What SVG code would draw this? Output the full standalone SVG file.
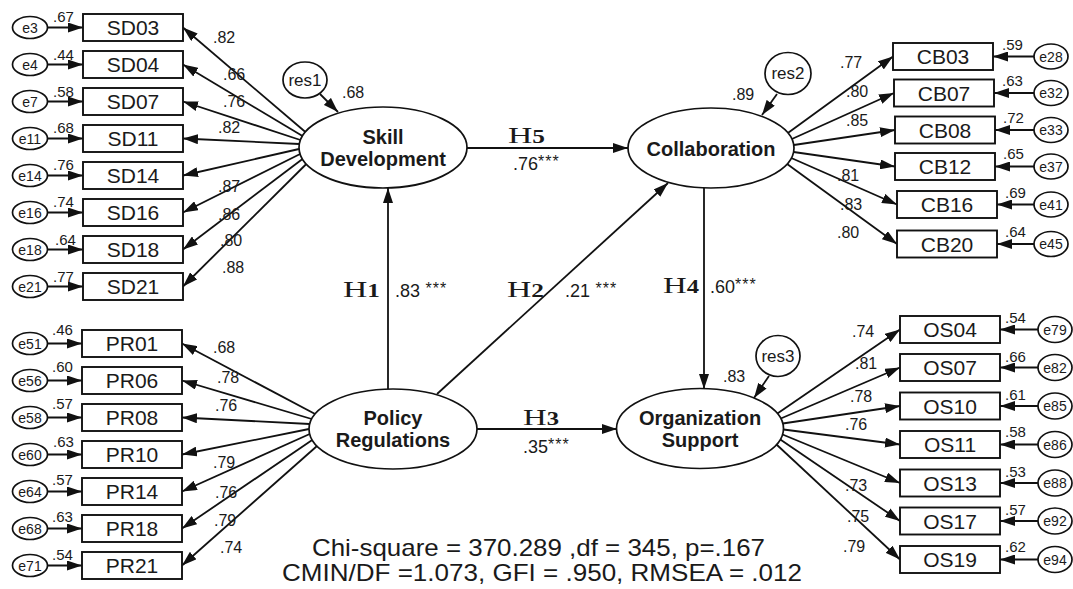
<svg xmlns="http://www.w3.org/2000/svg" width="1073" height="589" viewBox="0 0 1073 589">
<defs>
<marker id="ah" viewBox="0 0 15 10" refX="15" refY="5" markerWidth="15" markerHeight="10" markerUnits="userSpaceOnUse" orient="auto"><path d="M0,0 L15,5 L0,10 z" fill="#111"/></marker>
</defs>
<style>
.bx{fill:#fff;stroke:#111;stroke-width:1.9}
.el{fill:#fff;stroke:#111;stroke-width:1.7}
.ln{stroke:#111;stroke-width:1.8;fill:none;marker-end:url(#ah)}
.it{font-family:"Liberation Sans",Arial,sans-serif;font-size:21px;fill:#1a1a1a;text-anchor:middle}
.et{font-family:"Liberation Sans",Arial,sans-serif;font-size:14px;fill:#1a1a1a;text-anchor:middle}
.rt{font-family:"Liberation Sans",Arial,sans-serif;font-size:17px;fill:#1a1a1a;text-anchor:middle}
.num{font-family:"Liberation Sans",Arial,sans-serif;font-size:16px;fill:#1a1a1a}
.ev{font-family:"Liberation Sans",Arial,sans-serif;font-size:15px;fill:#1a1a1a}
.lat{font-family:"Liberation Sans",Arial,sans-serif;font-size:20px;font-weight:bold;fill:#1a1a1a;text-anchor:middle}
.hh{font-family:"Liberation Serif","Times New Roman",serif;font-size:24px;fill:#1a1a1a}
.hd{font-family:"Liberation Serif","Times New Roman",serif;font-size:18px;font-weight:bold}
.pc{font-family:"Liberation Sans",Arial,sans-serif;font-size:18px;fill:#1a1a1a}
.st{font-size:16px;letter-spacing:1px}
.fit{font-family:"Liberation Sans",Arial,sans-serif;font-size:24px;fill:#1a1a1a}
</style>
<rect width="1073" height="589" fill="#fff"/>

<g id="connectors">
<line class="ln" x1="305.4" y1="132" x2="183" y2="27.5"/>
<line class="ln" x1="302.5" y1="136" x2="183" y2="64.5"/>
<line class="ln" x1="300.4" y1="140" x2="183" y2="101.5"/>
<line class="ln" x1="299.3" y1="144" x2="183" y2="138.5"/>
<line class="ln" x1="299" y1="149" x2="183" y2="175.5"/>
<line class="ln" x1="300.1" y1="154" x2="183" y2="212.5"/>
<line class="ln" x1="302.5" y1="159" x2="183" y2="249.5"/>
<line class="ln" x1="306.3" y1="164" x2="183" y2="286.5"/>
<line class="ln" x1="47.5" y1="27.5" x2="83" y2="27.5"/>
<line class="ln" x1="47.5" y1="64.5" x2="83" y2="64.5"/>
<line class="ln" x1="47.5" y1="101.5" x2="83" y2="101.5"/>
<line class="ln" x1="47.5" y1="138.5" x2="83" y2="138.5"/>
<line class="ln" x1="47.5" y1="175.5" x2="83" y2="175.5"/>
<line class="ln" x1="47.5" y1="212.5" x2="83" y2="212.5"/>
<line class="ln" x1="47.5" y1="249.5" x2="83" y2="249.5"/>
<line class="ln" x1="47.5" y1="286.5" x2="83" y2="286.5"/>
<line class="ln" x1="315.1" y1="414" x2="182" y2="343.5"/>
<line class="ln" x1="311.7" y1="419" x2="182" y2="380.5"/>
<line class="ln" x1="309.7" y1="424" x2="182" y2="417.5"/>
<line class="ln" x1="309" y1="429" x2="182" y2="454.5"/>
<line class="ln" x1="309.7" y1="434" x2="182" y2="491.5"/>
<line class="ln" x1="312.2" y1="440" x2="182" y2="528.5"/>
<line class="ln" x1="317" y1="446" x2="182" y2="565.5"/>
<line class="ln" x1="47.5" y1="343.5" x2="82" y2="343.5"/>
<line class="ln" x1="47.5" y1="380.5" x2="82" y2="380.5"/>
<line class="ln" x1="47.5" y1="417.5" x2="82" y2="417.5"/>
<line class="ln" x1="47.5" y1="454.5" x2="82" y2="454.5"/>
<line class="ln" x1="47.5" y1="491.5" x2="82" y2="491.5"/>
<line class="ln" x1="47.5" y1="528.5" x2="82" y2="528.5"/>
<line class="ln" x1="47.5" y1="565.5" x2="82" y2="565.5"/>
<line class="ln" x1="787.9" y1="133" x2="893" y2="56.5"/>
<line class="ln" x1="791.9" y1="139" x2="894" y2="93"/>
<line class="ln" x1="793.8" y1="145" x2="895" y2="130"/>
<line class="ln" x1="793.6" y1="152" x2="895" y2="166.5"/>
<line class="ln" x1="791.3" y1="158" x2="897" y2="204.5"/>
<line class="ln" x1="787.1" y1="164" x2="897" y2="244"/>
<line class="ln" x1="1034" y1="56.5" x2="993" y2="56.5"/>
<line class="ln" x1="1034" y1="93" x2="994" y2="93"/>
<line class="ln" x1="1034" y1="130" x2="995" y2="130"/>
<line class="ln" x1="1034" y1="166.5" x2="995" y2="166.5"/>
<line class="ln" x1="1034" y1="204.5" x2="997" y2="204.5"/>
<line class="ln" x1="1034" y1="244" x2="997" y2="244"/>
<line class="ln" x1="777.4" y1="413.5" x2="900" y2="329.5"/>
<line class="ln" x1="780.8" y1="418.5" x2="900" y2="367.5"/>
<line class="ln" x1="782.8" y1="423.5" x2="900" y2="406"/>
<line class="ln" x1="783.5" y1="429.5" x2="900" y2="444.5"/>
<line class="ln" x1="782.6" y1="434.5" x2="900" y2="483"/>
<line class="ln" x1="780.3" y1="439.5" x2="900" y2="521"/>
<line class="ln" x1="776.5" y1="444.5" x2="900" y2="559.5"/>
<line class="ln" x1="1038" y1="329.5" x2="1000" y2="329.5"/>
<line class="ln" x1="1038" y1="367.5" x2="1000" y2="367.5"/>
<line class="ln" x1="1038" y1="406" x2="1000" y2="406"/>
<line class="ln" x1="1038" y1="444.5" x2="1000" y2="444.5"/>
<line class="ln" x1="1038" y1="483" x2="1000" y2="483"/>
<line class="ln" x1="1038" y1="521" x2="1000" y2="521"/>
<line class="ln" x1="1038" y1="559.5" x2="1000" y2="559.5"/>
<line class="ln" x1="320" y1="94" x2="338" y2="112"/>
<line class="ln" x1="777" y1="94" x2="762" y2="115"/>
<line class="ln" x1="769" y1="376" x2="754" y2="398"/>
<line class="ln" x1="467" y1="148" x2="628" y2="148"/>
<line class="ln" x1="388" y1="389" x2="388" y2="188"/>
<line class="ln" x1="437" y1="394" x2="668" y2="183"/>
<line class="ln" x1="704" y1="188" x2="704" y2="389"/>
<line class="ln" x1="477" y1="429" x2="617" y2="429"/>
</g>

<g id="path-labels">
<text class="hh" x="508" y="143" textLength="37" lengthAdjust="spacingAndGlyphs">H<tspan class="hd">5</tspan></text>
<text class="pc" x="513" y="170">.76<tspan class="st" dy="-3">***</tspan></text>
<text class="hh" x="343" y="297" textLength="37" lengthAdjust="spacingAndGlyphs">H<tspan class="hd">1</tspan></text>
<text class="pc" x="395" y="297">.83<tspan class="st" dy="-3"> ***</tspan></text>
<text class="hh" x="507" y="297" textLength="37" lengthAdjust="spacingAndGlyphs">H<tspan class="hd">2</tspan></text>
<text class="pc" x="565" y="297">.21<tspan class="st" dy="-3"> ***</tspan></text>
<text class="hh" x="663" y="293" textLength="36" lengthAdjust="spacingAndGlyphs">H<tspan class="hd">4</tspan></text>
<text class="pc" x="710" y="293">.60<tspan class="st" dy="-3">***</tspan></text>
<text class="hh" x="523" y="425" textLength="36" lengthAdjust="spacingAndGlyphs">H<tspan class="hd">3</tspan></text>
<text class="pc" x="523" y="453">.35<tspan class="st" dy="-3">***</tspan></text>
<text class="num" x="342" y="98">.68</text>
<text class="num" x="732" y="100">.89</text>
<text class="num" x="723" y="382">.83</text>
<text class="num" x="213" y="43">.82</text>
<text class="num" x="223" y="80">.66</text>
<text class="num" x="223" y="107">.76</text>
<text class="num" x="218" y="133">.82</text>
<text class="num" x="218" y="192">.87</text>
<text class="num" x="218" y="220">.86</text>
<text class="num" x="220" y="246">.80</text>
<text class="num" x="222" y="273">.88</text>
<text class="num" x="213" y="353">.68</text>
<text class="num" x="217" y="383">.78</text>
<text class="num" x="215" y="411">.76</text>
<text class="num" x="213" y="468">.79</text>
<text class="num" x="215" y="498">.76</text>
<text class="num" x="214" y="526">.79</text>
<text class="num" x="220" y="553">.74</text>
<text class="num" x="840" y="68">.77</text>
<text class="num" x="846" y="97">.80</text>
<text class="num" x="846" y="126">.85</text>
<text class="num" x="837" y="181">.81</text>
<text class="num" x="840" y="210">.83</text>
<text class="num" x="837" y="238">.80</text>
<text class="num" x="852" y="337">.74</text>
<text class="num" x="855" y="369">.81</text>
<text class="num" x="850" y="402">.78</text>
<text class="num" x="845" y="430">.76</text>
<text class="num" x="845" y="491">.73</text>
<text class="num" x="847" y="522">.75</text>
<text class="num" x="843" y="552">.79</text>
</g>

<g id="res1"><ellipse class="el" cx="305" cy="80" rx="22" ry="18"/><text class="rt" x="305" y="86">res1</text></g>
<g id="res2"><ellipse class="el" cx="788" cy="73.5" rx="23" ry="21"/><text class="rt" x="788" y="79">res2</text></g>
<g id="res3"><ellipse class="el" cx="778" cy="356" rx="22" ry="20.5"/><text class="rt" x="778" y="362">res3</text></g>

<g id="skill-development"><ellipse class="el" cx="383" cy="147.5" rx="84" ry="40.5"/><text class="lat" x="383" y="144">Skill</text><text class="lat" x="383" y="166">Development</text></g>
<g id="collaboration"><ellipse class="el" cx="711" cy="148" rx="83" ry="40"/><text class="lat" x="711" y="156">Collaboration</text></g>
<g id="policy-regulations"><ellipse class="el" cx="393" cy="429" rx="84" ry="40"/><text class="lat" x="393" y="425">Policy</text><text class="lat" x="393" y="447">Regulations</text></g>
<g id="organization-support"><ellipse class="el" cx="700" cy="428.5" rx="83.5" ry="40"/><text class="lat" x="700" y="425">Organization</text><text class="lat" x="700" y="447">Support</text></g>

<g id="SD03"><rect class="bx" x="83" y="14" width="100" height="27"/><text class="it" x="133" y="35">SD03</text><ellipse class="el" cx="30" cy="27.5" rx="17.5" ry="11"/><text class="et" x="30" y="32.5">e3</text><text class="ev" x="53" y="22">.67</text></g>
<g id="SD04"><rect class="bx" x="83" y="51" width="100" height="27"/><text class="it" x="133" y="72">SD04</text><ellipse class="el" cx="30" cy="64.5" rx="17.5" ry="11"/><text class="et" x="30" y="69.5">e4</text><text class="ev" x="53" y="60">.44</text></g>
<g id="SD07"><rect class="bx" x="83" y="88" width="100" height="27"/><text class="it" x="133" y="109">SD07</text><ellipse class="el" cx="30" cy="101.5" rx="17.5" ry="11"/><text class="et" x="30" y="106.5">e7</text><text class="ev" x="53" y="97">.58</text></g>
<g id="SD11"><rect class="bx" x="83" y="125" width="100" height="27"/><text class="it" x="133" y="146">SD11</text><ellipse class="el" cx="30" cy="138.5" rx="17.5" ry="11"/><text class="et" x="30" y="143.5">e11</text><text class="ev" x="53" y="133">.68</text></g>
<g id="SD14"><rect class="bx" x="83" y="162" width="100" height="27"/><text class="it" x="133" y="183">SD14</text><ellipse class="el" cx="30" cy="175.5" rx="17.5" ry="11"/><text class="et" x="30" y="180.5">e14</text><text class="ev" x="53" y="170">.76</text></g>
<g id="SD16"><rect class="bx" x="83" y="199" width="100" height="27"/><text class="it" x="133" y="220">SD16</text><ellipse class="el" cx="30" cy="212.5" rx="17.5" ry="11"/><text class="et" x="30" y="217.5">e16</text><text class="ev" x="53" y="207">.74</text></g>
<g id="SD18"><rect class="bx" x="83" y="236" width="100" height="27"/><text class="it" x="133" y="257">SD18</text><ellipse class="el" cx="30" cy="249.5" rx="17.5" ry="11"/><text class="et" x="30" y="254.5">e18</text><text class="ev" x="55" y="245">.64</text></g>
<g id="SD21"><rect class="bx" x="83" y="273" width="100" height="27"/><text class="it" x="133" y="294">SD21</text><ellipse class="el" cx="30" cy="286.5" rx="17.5" ry="11"/><text class="et" x="30" y="291.5">e21</text><text class="ev" x="53" y="282">.77</text></g>

<g id="PR01"><rect class="bx" x="82" y="330" width="100" height="27"/><text class="it" x="132" y="351">PR01</text><ellipse class="el" cx="30" cy="343.5" rx="17.5" ry="11"/><text class="et" x="30" y="348.5">e51</text><text class="ev" x="52" y="335">.46</text></g>
<g id="PR06"><rect class="bx" x="82" y="367" width="100" height="27"/><text class="it" x="132" y="388">PR06</text><ellipse class="el" cx="30" cy="380.5" rx="17.5" ry="11"/><text class="et" x="30" y="385.5">e56</text><text class="ev" x="52" y="372">.60</text></g>
<g id="PR08"><rect class="bx" x="82" y="404" width="100" height="27"/><text class="it" x="132" y="425">PR08</text><ellipse class="el" cx="30" cy="417.5" rx="17.5" ry="11"/><text class="et" x="30" y="422.5">e58</text><text class="ev" x="52" y="409">.57</text></g>
<g id="PR10"><rect class="bx" x="82" y="441" width="100" height="27"/><text class="it" x="132" y="462">PR10</text><ellipse class="el" cx="30" cy="454.5" rx="17.5" ry="11"/><text class="et" x="30" y="459.5">e60</text><text class="ev" x="53" y="447">.63</text></g>
<g id="PR14"><rect class="bx" x="82" y="478" width="100" height="27"/><text class="it" x="132" y="499">PR14</text><ellipse class="el" cx="30" cy="491.5" rx="17.5" ry="11"/><text class="et" x="30" y="496.5">e64</text><text class="ev" x="52" y="485">.57</text></g>
<g id="PR18"><rect class="bx" x="82" y="515" width="100" height="27"/><text class="it" x="132" y="536">PR18</text><ellipse class="el" cx="30" cy="528.5" rx="17.5" ry="11"/><text class="et" x="30" y="533.5">e68</text><text class="ev" x="52" y="522">.63</text></g>
<g id="PR21"><rect class="bx" x="82" y="552" width="100" height="27"/><text class="it" x="132" y="573">PR21</text><ellipse class="el" cx="30" cy="565.5" rx="17.5" ry="11"/><text class="et" x="30" y="570.5">e71</text><text class="ev" x="52" y="560">.54</text></g>

<g id="CB03"><rect class="bx" x="893" y="43" width="100" height="27"/><text class="it" x="943" y="64">CB03</text><ellipse class="el" cx="1051" cy="56.5" rx="17" ry="12.5"/><text class="et" x="1051" y="61.5">e28</text><text class="ev" x="1002" y="50">.59</text></g>
<g id="CB07"><rect class="bx" x="894" y="79.5" width="100" height="27"/><text class="it" x="944" y="100.5">CB07</text><ellipse class="el" cx="1051" cy="93" rx="17" ry="12.5"/><text class="et" x="1051" y="98">e32</text><text class="ev" x="1002" y="86">.63</text></g>
<g id="CB08"><rect class="bx" x="895" y="116.5" width="100" height="27"/><text class="it" x="945" y="137.5">CB08</text><ellipse class="el" cx="1051" cy="130" rx="17" ry="12.5"/><text class="et" x="1051" y="135">e33</text><text class="ev" x="1003" y="123">.72</text></g>
<g id="CB12"><rect class="bx" x="895" y="153" width="100" height="27"/><text class="it" x="945" y="174">CB12</text><ellipse class="el" cx="1051" cy="166.5" rx="17" ry="12.5"/><text class="et" x="1051" y="171.5">e37</text><text class="ev" x="1003" y="159">.65</text></g>
<g id="CB16"><rect class="bx" x="897" y="191" width="100" height="27"/><text class="it" x="947" y="212">CB16</text><ellipse class="el" cx="1051" cy="204.5" rx="17" ry="12.5"/><text class="et" x="1051" y="209.5">e41</text><text class="ev" x="1005" y="198">.69</text></g>
<g id="CB20"><rect class="bx" x="897" y="230.5" width="100" height="27"/><text class="it" x="947" y="251.5">CB20</text><ellipse class="el" cx="1051" cy="244" rx="17" ry="12.5"/><text class="et" x="1051" y="249">e45</text><text class="ev" x="1005" y="237">.64</text></g>

<g id="OS04"><rect class="bx" x="900" y="316" width="100" height="27"/><text class="it" x="950" y="337">OS04</text><ellipse class="el" cx="1055" cy="329.5" rx="17" ry="13"/><text class="et" x="1055" y="334.5">e79</text><text class="ev" x="1005" y="323">.54</text></g>
<g id="OS07"><rect class="bx" x="900" y="354" width="100" height="27"/><text class="it" x="950" y="375">OS07</text><ellipse class="el" cx="1055" cy="367.5" rx="17" ry="13"/><text class="et" x="1055" y="372.5">e82</text><text class="ev" x="1005" y="362">.66</text></g>
<g id="OS10"><rect class="bx" x="900" y="392.5" width="100" height="27"/><text class="it" x="950" y="413.5">OS10</text><ellipse class="el" cx="1055" cy="406" rx="17" ry="13"/><text class="et" x="1055" y="411">e85</text><text class="ev" x="1005" y="400">.61</text></g>
<g id="OS11"><rect class="bx" x="900" y="431" width="100" height="27"/><text class="it" x="950" y="452">OS11</text><ellipse class="el" cx="1055" cy="444.5" rx="17" ry="13"/><text class="et" x="1055" y="449.5">e86</text><text class="ev" x="1005" y="437">.58</text></g>
<g id="OS13"><rect class="bx" x="900" y="469.5" width="100" height="27"/><text class="it" x="950" y="490.5">OS13</text><ellipse class="el" cx="1055" cy="483" rx="17" ry="13"/><text class="et" x="1055" y="488">e88</text><text class="ev" x="1005" y="477">.53</text></g>
<g id="OS17"><rect class="bx" x="900" y="507.5" width="100" height="27"/><text class="it" x="950" y="528.5">OS17</text><ellipse class="el" cx="1055" cy="521" rx="17" ry="13"/><text class="et" x="1055" y="526">e92</text><text class="ev" x="1005" y="515">.57</text></g>
<g id="OS19"><rect class="bx" x="900" y="546" width="100" height="27"/><text class="it" x="950" y="567">OS19</text><ellipse class="el" cx="1055" cy="559.5" rx="17" ry="13"/><text class="et" x="1055" y="564.5">e94</text><text class="ev" x="1005" y="552">.62</text></g>

<g id="fit-stats">
<text class="fit" x="312" y="556" textLength="453" lengthAdjust="spacingAndGlyphs">Chi-square = 370.289 ,df = 345, p=.167</text>
<text class="fit" x="282" y="581" textLength="520" lengthAdjust="spacingAndGlyphs">CMIN/DF =1.073, GFI = .950, RMSEA = .012</text>
</g>
</svg>
